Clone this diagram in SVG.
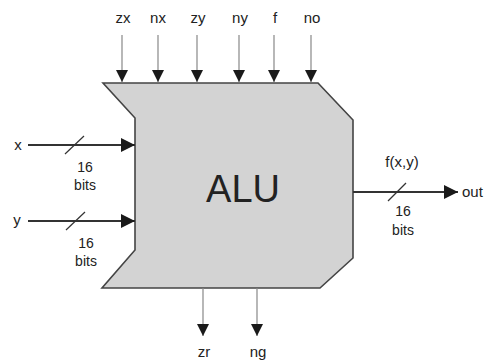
<svg xmlns="http://www.w3.org/2000/svg" width="488" height="362" viewBox="0 0 488 362">
<defs>
<marker id="ah" viewBox="0 0 10 10" refX="10" refY="5" markerWidth="14" markerHeight="14" markerUnits="userSpaceOnUse" orient="auto">
<path d="M0,0 L10,5 L0,10 Z" fill="#1a1a1a"/>
</marker>
<marker id="ahs" viewBox="0 0 10 10" refX="10" refY="5" markerWidth="12" markerHeight="12" markerUnits="userSpaceOnUse" orient="auto">
<path d="M0,0 L10,5 L0,10 Z" fill="#1a1a1a"/>
</marker>
</defs>
<style>
text{font-family:"Liberation Sans",Arial,sans-serif;fill:#222}
.lbl{font-size:15px;text-anchor:middle}
.sm{font-size:14px;text-anchor:middle}
.thin{stroke:#888;stroke-width:1.2;fill:none}
.bus{stroke:#333;stroke-width:1.8;fill:none}
.slash{stroke:#333;stroke-width:1.2}
</style>
<rect width="488" height="362" fill="#fff"/>
<g id="alu">
<path d="M103,83 L318,83 L353,120 L353,258 L320,288 L102,288 L135,250 L135,118 Z" fill="#d3d3d3" stroke="#444" stroke-width="1.6"/>
<text x="243" y="202" font-size="38" text-anchor="middle">ALU</text>
</g>
<g id="connectors">
<line class="thin" x1="122" y1="35" x2="122" y2="82" marker-end="url(#ahs)"/>
<line class="thin" x1="158" y1="35" x2="158" y2="82" marker-end="url(#ahs)"/>
<line class="thin" x1="197" y1="35" x2="197" y2="82" marker-end="url(#ahs)"/>
<line class="thin" x1="239" y1="35" x2="239" y2="82" marker-end="url(#ahs)"/>
<line class="thin" x1="274" y1="35" x2="274" y2="82" marker-end="url(#ahs)"/>
<line class="thin" x1="311" y1="35" x2="311" y2="82" marker-end="url(#ahs)"/>
<line class="bus" x1="28" y1="145" x2="135" y2="145" marker-end="url(#ah)"/>
<line class="slash" x1="65" y1="154" x2="84" y2="136"/>
<line class="bus" x1="28" y1="221" x2="135" y2="221" marker-end="url(#ah)"/>
<line class="slash" x1="66" y1="230" x2="85" y2="212"/>
<line class="bus" x1="353" y1="192" x2="458" y2="192" marker-end="url(#ah)"/>
<line class="slash" x1="388" y1="201" x2="406" y2="183"/>
<line class="thin" x1="203" y1="288" x2="203" y2="336" marker-end="url(#ahs)"/>
<line class="thin" x1="257" y1="288" x2="257" y2="336" marker-end="url(#ahs)"/>
</g>
<g id="labels">
<text class="lbl" x="123" y="23">zx</text>
<text class="lbl" x="158" y="23">nx</text>
<text class="lbl" x="198" y="23">zy</text>
<text class="lbl" x="240" y="23">ny</text>
<text class="lbl" x="275" y="23">f</text>
<text class="lbl" x="312" y="23">no</text>
<text class="lbl" x="18" y="150">x</text>
<text class="sm" x="85" y="172">16</text>
<text class="sm" x="85" y="190">bits</text>
<text class="lbl" x="17" y="225">y</text>
<text class="sm" x="86" y="248">16</text>
<text class="sm" x="86" y="266">bits</text>
<text class="lbl" x="402" y="167">f(x,y)</text>
<text class="sm" x="403" y="216">16</text>
<text class="sm" x="403" y="235">bits</text>
<text x="462" y="197" font-size="15">out</text>
<text class="lbl" x="204" y="357">zr</text>
<text class="lbl" x="258" y="357">ng</text>
</g>
</svg>
